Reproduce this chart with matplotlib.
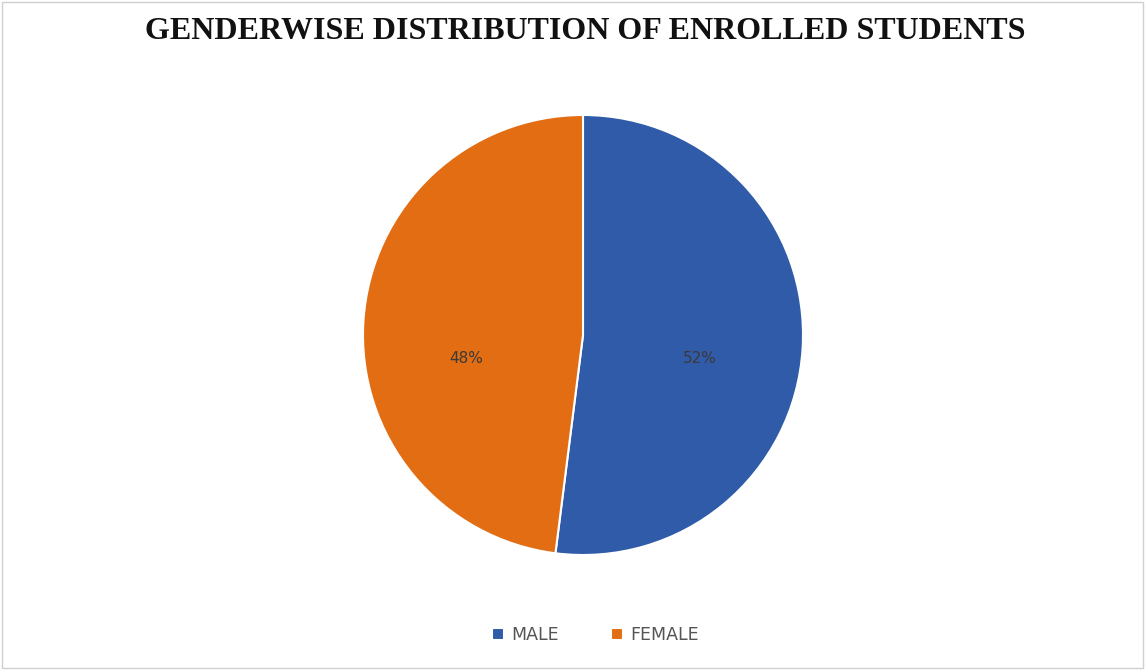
import matplotlib.pyplot as plt
from matplotlib.patches import Rectangle

labels = ["MALE", "FEMALE"]
shares = [52, 48]
colors = ["#2f5ba8", "#e26d12"]

fig = plt.figure(figsize=(11.45, 6.7), dpi=100)
fig.patch.set_facecolor("white")

# thin border around the chart area
fig.add_artist(Rectangle((0.002, 0.003), 0.996, 0.994, transform=fig.transFigure,
                         fill=False, edgecolor="#d0d0d0", linewidth=1))

cx, cy, r = 583, 335, 220
ax = fig.add_axes([(cx - r) / 1145, (670 - cy - r) / 670, 2 * r / 1145, 2 * r / 670])

wedges, texts, autotexts = ax.pie(
    shares,
    colors=colors,
    startangle=90,
    counterclock=False,
    autopct="%1.0f%%",
    pctdistance=0.53,
    wedgeprops=dict(edgecolor="white", linewidth=1.5),
    textprops=dict(color="#3a3a3a", fontsize=11, family="DejaVu Sans"),
)
# both labels sit on the same line a little below the centre, as in the original
for t in autotexts:
    x, y = t.get_position()
    t.set_position((x, -0.105))

ax.set_aspect("equal")
ax.set_xlim(-1, 1)
ax.set_ylim(-1, 1)

fig.suptitle("GENDERWISE DISTRIBUTION OF ENROLLED STUDENTS",
             x=0.511, y=0.975, fontsize=23, fontweight="bold",
             family="Liberation Serif", color="#111111")

fig.legend(wedges, labels, loc="center", bbox_to_anchor=(0.52, 0.052),
           ncol=2, frameon=False, fontsize=12.5, handlelength=0.7, handleheight=0.7,
           columnspacing=3.0, handletextpad=0.4, labelcolor="#555555")

fig.savefig("out.png", dpi=100)
